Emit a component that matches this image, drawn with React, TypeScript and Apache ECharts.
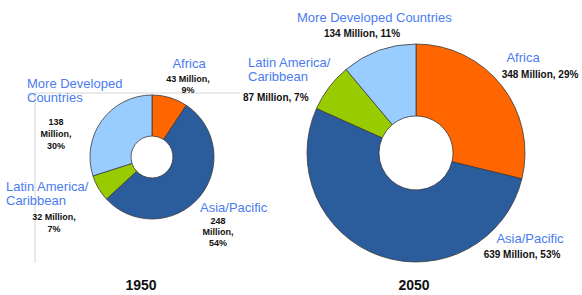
import React, { useEffect, useRef } from "react";
import * as echarts from "echarts";

const regions = ["Africa", "Asia/Pacific", "Latin America/Caribbean", "More Developed Countries"];
const pop1950 = [43, 248, 32, 138];
const pct1950 = [9, 54, 7, 30];
const pop2050 = [348, 639, 87, 134];
const pct2050 = [29, 53, 7, 11];
const years = ["1950", "2050"];
const names1950 = ["Africa", "Asia/Pacific", "Latin America/\nCaribbean", "More Developed\nCountries"];
const names2050 = ["Africa", "Asia/Pacific", "Latin America/\nCaribbean", "More Developed Countries"];

const COLORS = ["#ff6600", "#2b5c9c", "#99cc00", "#99ccff"];
const BLUE = "#4a7cf0";
const FONT = "'Liberation Sans', Arial, sans-serif";

type Pos = { x: number; y: number; align: string; lh: number };

const nameLayout1950: Pos[] = [
  { x: 189, y: 63, align: "center", lh: 14 },
  { x: 200, y: 207, align: "left", lh: 14 },
  { x: 6, y: 193.5, align: "left", lh: 13.5 },
  { x: 27, y: 90, align: "left", lh: 14 },
];
const valueLayout1950: Pos[] = [
  { x: 188, y: 84.5, align: "center", lh: 11 },
  { x: 218, y: 232, align: "center", lh: 11 },
  { x: 54, y: 223, align: "center", lh: 12 },
  { x: 56, y: 134, align: "center", lh: 12 },
];
const nameLayout2050: Pos[] = [
  { x: 523, y: 57, align: "center", lh: 14 },
  { x: 530, y: 238, align: "center", lh: 14 },
  { x: 248, y: 69.5, align: "left", lh: 14.5 },
  { x: 297, y: 17, align: "left", lh: 14 },
];
const valueLayout2050: Pos[] = [
  { x: 540, y: 74, align: "center", lh: 11 },
  { x: 522, y: 254, align: "center", lh: 11 },
  { x: 243, y: 97, align: "left", lh: 11 },
  { x: 362, y: 33, align: "center", lh: 11 },
];

function valueText1950(i: number): string {
  const pop = pop1950[i];
  const pct = pct1950[i];
  if (i === 0 || i === 2) return `${pop} Million,\n${pct}%`;
  return `${pop}\nMillion,\n${pct}%`;
}
function valueText2050(i: number): string {
  return `${pop2050[i]} Million, ${pct2050[i]}%`;
}

export default function App() {
  const ref = useRef<HTMLDivElement>(null);
  useEffect(() => {
    document.body.style.margin = "0";
    if (!ref.current) return;
    const chart = echarts.init(ref.current, undefined, { renderer: "svg" });

    const graphics: any[] = [
      {
        type: "polyline",
        shape: { points: [[35, 263], [35, 93], [240, 93]] },
        style: { stroke: "#d4d4d4", lineWidth: 1, fill: null },
        z: 0,
      },
    ];
    const addText = (p: Pos, text: string, size: number, weight: string, color: string) => {
      graphics.push({
        type: "text",
        x: p.x,
        y: p.y,
        z: 10,
        style: {
          text,
          fill: color,
          font: `${weight} ${size}px ${FONT}`,
          align: p.align,
          verticalAlign: "middle",
          lineHeight: p.lh,
        },
      });
    };
    regions.forEach((_, i) => {
      addText(nameLayout1950[i], names1950[i], 13, "normal", BLUE);
      addText(valueLayout1950[i], valueText1950(i), 9, "bold", "#111");
      addText(nameLayout2050[i], names2050[i], 13, "normal", BLUE);
      addText(valueLayout2050[i], valueText2050(i), 10, "bold", "#111");
    });
    addText({ x: 141, y: 285, align: "center", lh: 16 }, years[0], 14, "bold", "#111");
    addText({ x: 414, y: 285, align: "center", lh: 16 }, years[1], 14, "bold", "#111");

    const mkSeries = (vals: number[], center: [number, number], radius: [number, number], name: string) => ({
      type: "pie",
      name,
      center,
      radius,
      startAngle: 90,
      clockwise: true,
      avoidLabelOverlap: false,
      label: { show: false },
      labelLine: { show: false },
      emphasis: { disabled: true },
      itemStyle: { borderColor: "#3a3a3a", borderWidth: 0.8 },
      data: regions.map((r, i) => ({ name: r, value: vals[i], itemStyle: { color: COLORS[i] } })),
    });

    chart.setOption({
      animation: false,
      backgroundColor: "#ffffff",
      series: [
        mkSeries(pop1950, [152, 157], [21, 62], years[0]),
        mkSeries(pop2050, [416, 153], [37, 109], years[1]),
      ],
      graphic: graphics,
    });
    return () => chart.dispose();
  }, []);
  return <div ref={ref} style={{ width: 582, height: 295 }} />;
}
